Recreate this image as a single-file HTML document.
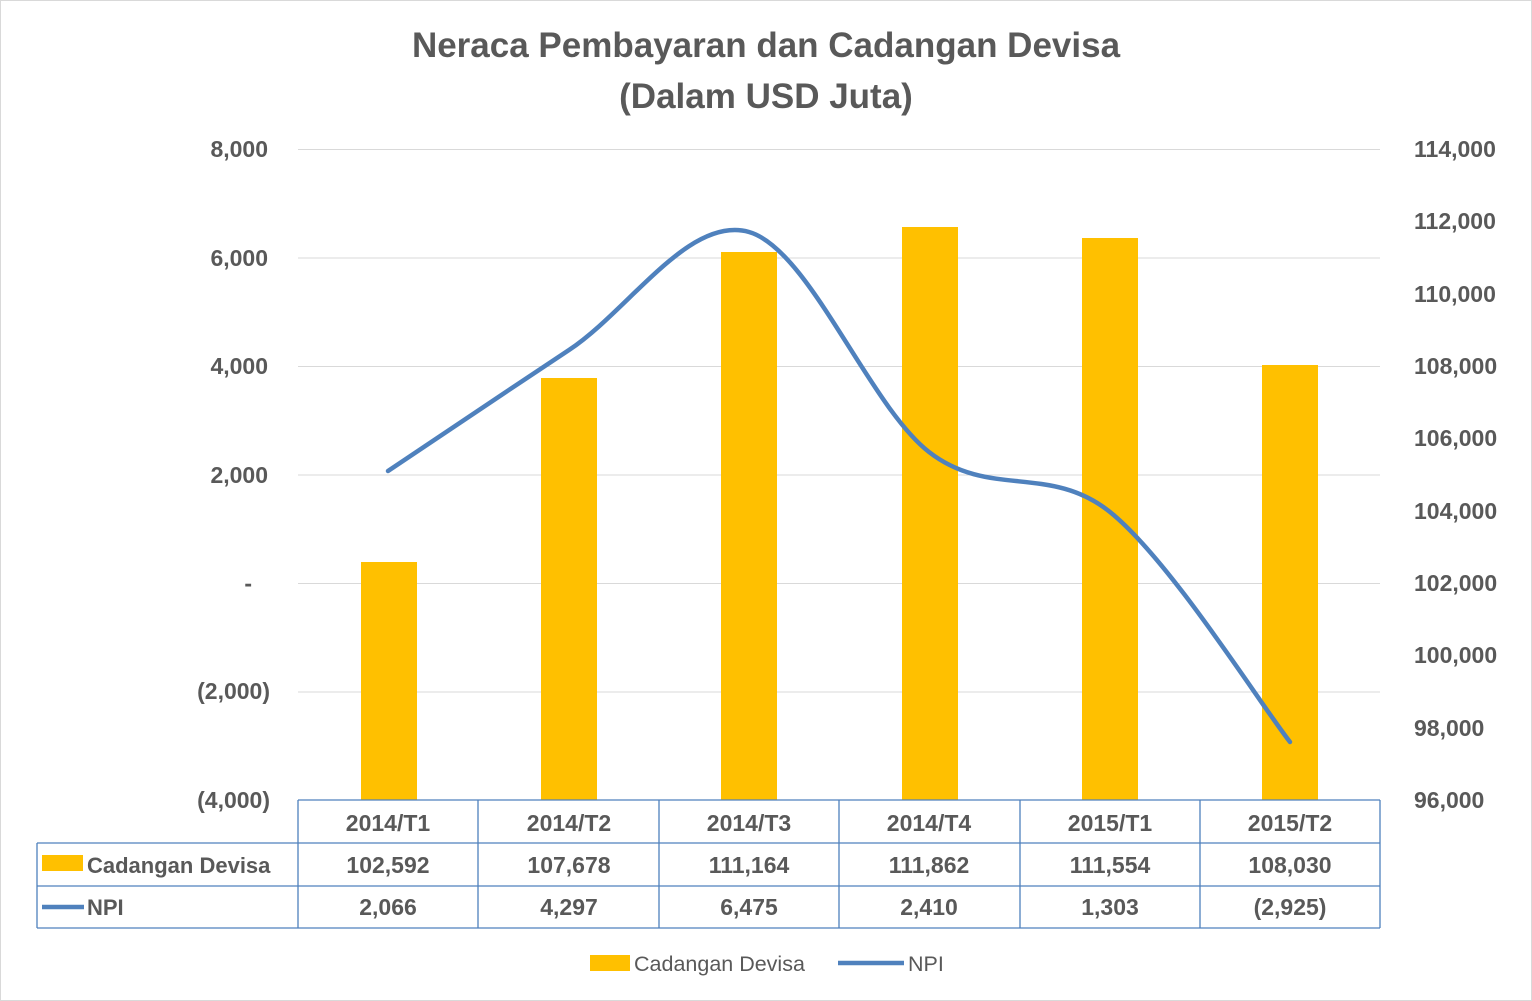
<!DOCTYPE html>
<html><head><meta charset="utf-8"><style>
html,body{margin:0;padding:0;background:#fff;}
svg{display:block;}
text{font-family:"Liberation Sans",Arial,sans-serif;}
</style></head><body>
<svg width="1532" height="1001" viewBox="0 0 1532 1001" xmlns="http://www.w3.org/2000/svg">
<rect x="0.5" y="0.5" width="1531" height="1000" fill="#fff" stroke="#d9d9d9"/>
<g font-weight="bold" fill="#595959" font-size="35" text-anchor="middle">
<text x="766" y="57">Neraca Pembayaran dan Cadangan Devisa</text>
<text x="766" y="108">(Dalam USD Juta)</text>
</g>
<g stroke="#d9d9d9" stroke-width="1">
<line x1="298" y1="149.5" x2="1380" y2="149.5"/>
<line x1="298" y1="258" x2="1380" y2="258"/>
<line x1="298" y1="366.5" x2="1380" y2="366.5"/>
<line x1="298" y1="475" x2="1380" y2="475"/>
<line x1="298" y1="583.5" x2="1380" y2="583.5"/>
<line x1="298" y1="692" x2="1380" y2="692"/>
</g>
<g font-weight="bold" fill="#595959" font-size="23">
<g text-anchor="end">
<text x="268" y="157">8,000</text>
<text x="268" y="266">6,000</text>
<text x="268" y="374">4,000</text>
<text x="268" y="483">2,000</text>
<text x="252" y="591">-</text>
<text x="270" y="699">(2,000)</text>
<text x="270" y="808">(4,000)</text>
</g>
<g text-anchor="start">
<text x="1414" y="157">114,000</text>
<text x="1414" y="229">112,000</text>
<text x="1414" y="302">110,000</text>
<text x="1414" y="374">108,000</text>
<text x="1414" y="446">106,000</text>
<text x="1414" y="519">104,000</text>
<text x="1414" y="591">102,000</text>
<text x="1414" y="663">100,000</text>
<text x="1414" y="736">98,000</text>
<text x="1414" y="808">96,000</text>
</g>
</g>
<g fill="#FFC000">
<rect x="361" y="562" width="56" height="238"/>
<rect x="541" y="378" width="56" height="422"/>
<rect x="721" y="252" width="56" height="548"/>
<rect x="902" y="227" width="56" height="573"/>
<rect x="1082" y="238" width="56" height="562"/>
<rect x="1262" y="365" width="56" height="435"/>
</g>
<path d="M388,471 C418.2,450.8 508.8,389.8 569,350 C629.2,310.2 689,215 749,232 C809,249 868.8,405.3 929,452 C989.2,498.7 1049.8,463.7 1110,512 C1170.2,560.3 1260,703.7 1290,742" fill="none" stroke="#4F81BD" stroke-width="4.5" stroke-linecap="round"/>
<g stroke="#4F81BD" stroke-width="1.3" fill="none">
<line x1="298" y1="800" x2="1380" y2="800"/>
<line x1="37" y1="843" x2="1380" y2="843"/>
<line x1="37" y1="886" x2="1380" y2="886"/>
<line x1="37" y1="928" x2="1380" y2="928"/>
<line x1="37" y1="843" x2="37" y2="928"/>
<line x1="298" y1="800" x2="298" y2="928"/>
<line x1="478" y1="800" x2="478" y2="928"/>
<line x1="659" y1="800" x2="659" y2="928"/>
<line x1="839" y1="800" x2="839" y2="928"/>
<line x1="1020" y1="800" x2="1020" y2="928"/>
<line x1="1200" y1="800" x2="1200" y2="928"/>
<line x1="1380" y1="800" x2="1380" y2="928"/>
</g>
<g font-weight="bold" fill="#595959" font-size="23" text-anchor="middle">
<text x="388" y="831">2014/T1</text><text x="569" y="831">2014/T2</text><text x="749" y="831">2014/T3</text><text x="929" y="831">2014/T4</text><text x="1110" y="831">2015/T1</text><text x="1290" y="831">2015/T2</text>
<text x="388" y="873">102,592</text><text x="569" y="873">107,678</text><text x="749" y="873">111,164</text><text x="929" y="873">111,862</text><text x="1110" y="873">111,554</text><text x="1290" y="873">108,030</text>
<text x="388" y="915">2,066</text><text x="569" y="915">4,297</text><text x="749" y="915">6,475</text><text x="929" y="915">2,410</text><text x="1110" y="915">1,303</text><text x="1290" y="915">(2,925)</text>
</g>
<rect x="42" y="855" width="41" height="16" fill="#FFC000"/>
<text x="87" y="873" font-weight="bold" fill="#595959" font-size="22">Cadangan Devisa</text>
<line x1="42" y1="907" x2="84" y2="907" stroke="#4F81BD" stroke-width="4.5"/>
<text x="87" y="915" font-weight="bold" fill="#595959" font-size="22">NPI</text>
<rect x="590" y="955" width="40" height="16" fill="#FFC000"/>
<text x="634" y="971" fill="#595959" font-size="21.5">Cadangan Devisa</text>
<line x1="838" y1="963" x2="904" y2="963" stroke="#4F81BD" stroke-width="4.5"/>
<text x="908" y="971" fill="#595959" font-size="21.5">NPI</text>
</svg>
</body></html>
